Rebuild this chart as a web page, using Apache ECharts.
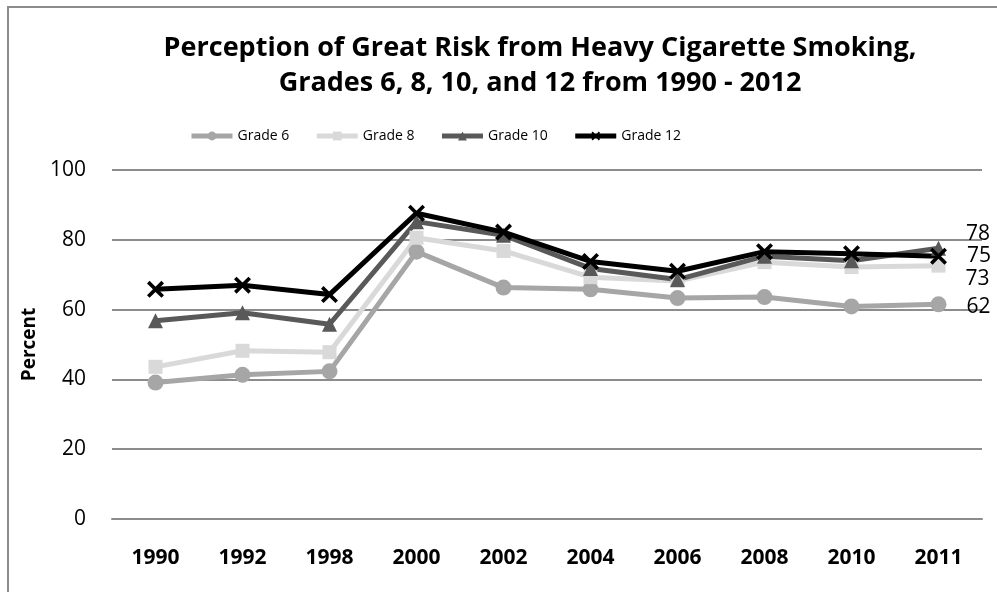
<!DOCTYPE html>
<html>
<head>
<meta charset="utf-8">
<script src="https://cdn.jsdelivr.net/npm/echarts@6/dist/echarts.min.js"></script>
<style>html,body{margin:0;padding:0;background:#fff}#c{width:997px;height:592px}</style>
</head>
<body>
<div id="c"></div>
<script>
var years = ['1990','1992','1998','2000','2002','2004','2006','2008','2010','2011'];
var grade6  = [39.1, 41.3, 42.3, 76.6, 66.3, 65.8, 63.3, 63.6, 60.9, 61.5];
var grade8  = [43.6, 48.2, 47.8, 80.6, 76.8, 69.3, 68.2, 73.6, 72.2, 72.6];
var grade10 = [56.8, 59.1, 55.8, 85.2, 81.3, 71.8, 68.6, 75.3, 74.0, 77.6];
var grade12 = [65.8, 67.0, 64.3, 87.6, 82.2, 73.8, 71.0, 76.6, 76.0, 75.3];
var yTicks = [0, 20, 40, 60, 80, 100];
var seriesNames = ['Grade 6', 'Grade 8', 'Grade 10', 'Grade 12'];
var titleLines = ['Perception of Great Risk from Heavy Cigarette Smoking,', 'Grades 6, 8, 10, and 12 from 1990 - 2012'];

var FONT = '"Open Sans", "Noto Sans", sans-serif';
var xPath = 'path://M1.5,0 L5,3.5 L8.5,0 L10,1.5 L6.5,5 L10,8.5 L8.5,10 L5,6.5 L1.5,10 L0,8.5 L3.5,5 L0,1.5 Z';
var colors = ['#a6a6a6', '#d9d9d9', '#595959', '#000000'];

function mkSeries(name, data, color, symbol, size, endOffsetY) {
  return {
    name: name, type: 'line', data: data.map(function (v, i) {
      if (i === data.length - 1) {
        return { value: v, label: { show: true, position: 'right', distance: 20, offset: [0, endOffsetY],
          formatter: function (p) { return Math.round(p.value); },
          color: '#000', fontSize: 21, fontFamily: FONT } };
      }
      return v;
    }),
    symbol: symbol, symbolSize: size, showAllSymbol: true,
    lineStyle: { color: color, width: 5 },
    itemStyle: { color: color },
    emphasis: { disabled: true },
    animation: false
  };
}

var chart = echarts.init(document.getElementById('c'), null, { renderer: 'canvas' });
chart.setOption({
  backgroundColor: '#fff',
  animation: false,
  legend: {
    top: 124, left: 184,
    itemWidth: 41, itemHeight: 11, itemGap: 25,
    textStyle: { fontFamily: FONT, fontSize: 14, color: '#000' },
    data: seriesNames.map(function (n, i) {
      return { name: n, lineStyle: { width: 5, color: colors[i] } };
    })
  },
  grid: { left: 112, right: 15, top: 170, bottom: 73 },
  xAxis: {
    type: 'category', data: years, boundaryGap: true,
    axisLine: { show: true, lineStyle: { color: '#8c8c8c', width: 2 } },
    axisTick: { show: false },
    axisLabel: { fontFamily: FONT, fontSize: 21, fontWeight: 'bold', color: '#000', margin: 29 }
  },
  yAxis: {
    type: 'value', min: yTicks[0], max: yTicks[yTicks.length - 1], interval: 20,
    name: 'Percent', nameLocation: 'middle', nameGap: 67, nameRotate: 90,
    nameTextStyle: { fontFamily: FONT, fontSize: 19, fontWeight: 'bold', color: '#000' },
    axisLine: { show: false }, axisTick: { show: false },
    axisLabel: { fontFamily: FONT, fontSize: 21, color: '#000', margin: 26 },
    splitLine: { lineStyle: { color: '#8c8c8c', width: 2 } }
  },
  graphic: [
    { type: 'rect', shape: { x: 8, y: 7, width: 1100, height: 700 },
      style: { fill: null, stroke: '#8c8c8c', lineWidth: 2 }, silent: true },
    { type: 'text', x: 540, y: 48, silent: true,
      style: { text: titleLines[0], textAlign: 'center', textVerticalAlign: 'middle',
        font: 'bold 27px ' + FONT, fill: '#000' } },
    { type: 'text', x: 540, y: 83, silent: true,
      style: { text: titleLines[1], textAlign: 'center', textVerticalAlign: 'middle',
        font: 'bold 27px ' + FONT, fill: '#000' } }
  ],
  series: [
    mkSeries(seriesNames[0], grade6, colors[0], 'circle', 16, 3),
    mkSeries(seriesNames[1], grade8, colors[1], 'rect', 14, 13),
    mkSeries(seriesNames[2], grade10, colors[2], 'triangle', 15, -14),
    mkSeries(seriesNames[3], grade12, colors[3], xPath, 17, 0)
  ]
});
</script>
</body>
</html>
